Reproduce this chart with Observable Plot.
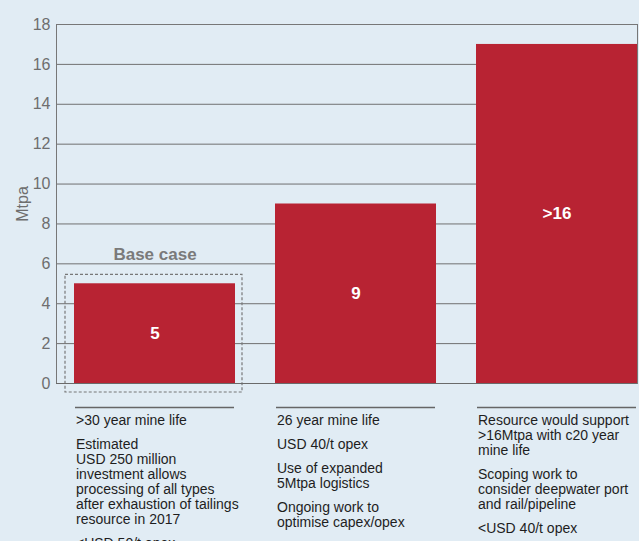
<!DOCTYPE html>
<html><head><meta charset="utf-8">
<script src="https://cdn.jsdelivr.net/npm/d3@7"></script>
<script src="https://cdn.jsdelivr.net/npm/@observablehq/plot@0.6"></script>
<style>
html,body{margin:0;padding:0;background:#e1ecf4;}
#chart svg{display:block;}
</style></head><body><div id="chart"></div>
<script>
// ---- data ----
const categories = ["Base case", "9 Mtpa", ">16 Mtpa"];
const values = [5, 9, 17];
const valueLabels = ["5", "9", ">16"];
const yTicks = [0, 2, 4, 6, 8, 10, 12, 14, 16, 18];
const yLabel = "Mtpa";
const baseCaseLabel = "Base case";
const notesBase = [
  [">30 year mine life"],
  ["Estimated", "USD 250 million", "investment allows", "processing of all types", "after exhaustion of tailings", "resource in 2017"],
  ["<USD 50/t opex"]
];
const notesMid = [
  ["26 year mine life"],
  ["USD 40/t opex"],
  ["Use of expanded", "5Mtpa logistics"],
  ["Ongoing work to", "optimise capex/opex"]
];
const notesHigh = [
  ["Resource would support", ">16Mtpa with c20 year", "mine life"],
  ["Scoping work to", "consider deepwater port", "and rail/pipeline"],
  ["<USD 40/t opex"]
];

// ---- build ----
const data = categories.map((c, i) => ({cat: c, value: values[i], label: valueLabels[i]}));
const notes = [notesBase, notesMid, notesHigh];
const RED = "#b82333", GRAY = "#6e6e6e";
const lineH = 15, noteFont = 14;

const noteMarks = [];
notes.forEach((paras, ci) => {
  let top = 31;
  paras.forEach(lines => {
    noteMarks.push(Plot.text([categories[ci]], {
      x: d => d, y: 0, dy: top, dx: -79,
      text: () => lines.join("\n"),
      lineAnchor: "top", textAnchor: "start",
      lineHeight: lineH / noteFont, fontSize: noteFont, fill: "#1e1e1e"
    }));
    top += lines.length * lineH + 9;
  });
});

const chart = Plot.plot({
  width: 639, height: 541,
  marginLeft: 56, marginRight: 2, marginTop: 24, marginBottom: 158,
  style: {background: "transparent", fontFamily: "'Liberation Sans', Arial, sans-serif", color: GRAY},
  x: {domain: categories, paddingInner: 0.2, paddingOuter: 0.04, align: 1, axis: null},
  y: {domain: [0, 18]},
  marks: [
    Plot.ruleY(yTicks, {stroke: "#707070", strokeWidth: 1}),
    Plot.frame({stroke: "#777"}),
    Plot.axisY({ticks: yTicks, tickSize: 0, tickPadding: 6, fontSize: 16, fill: GRAY,
      label: yLabel, labelAnchor: "center", labelArrow: "none", labelOffset: 40}),
    Plot.barY([data[0]], {x: "cat", y: "value", fill: "none", stroke: "#777", strokeWidth: 1.2,
      strokeDasharray: "3,2", insetLeft: -9, insetRight: -7, insetTop: -9, insetBottom: -9}),
    Plot.barY(data, {x: "cat", y: "value", fill: RED}),
    Plot.ruleY([0], {stroke: "#6a6a6a", strokeWidth: 1.2}),
    Plot.text(data, {x: "cat", y: d => d.value / 2, text: "label", fill: "white",
      fontWeight: "bold", fontSize: 17}),
    Plot.text([data[0]], {x: "cat", y: "value", dy: -29, text: () => baseCaseLabel,
      fill: "#7a7a7a", fontWeight: "bold", fontSize: 17}),
    Plot.tickY(categories, {x: d => d, y: 0, dy: 24, stroke: "#666", strokeWidth: 1.5,
      insetLeft: 1, insetRight: 1}),
    ...noteMarks
  ]
});
document.getElementById("chart").append(chart);
</script></body></html>
